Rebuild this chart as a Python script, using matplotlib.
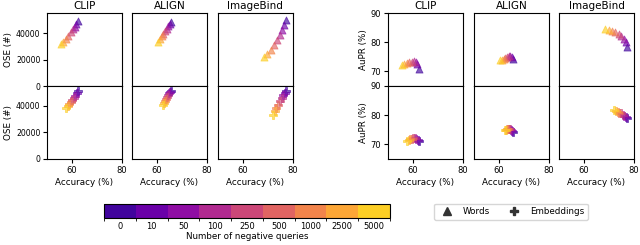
import numpy as np
import matplotlib
matplotlib.use("Agg")
import matplotlib.pyplot as plt
from matplotlib.colors import ListedColormap, BoundaryNorm
from matplotlib.cm import ScalarMappable
from matplotlib.lines import Line2D

# negative query levels (colour bins)
levels = ['0', '10', '50', '100', '250', '500', '1000', '2500', '5000']
models = ['CLIP', 'ALIGN', 'ImageBind']

# ---- Words (triangles), values ordered as levels ----
clip_words_acc = [62.2, 61.7, 61.0, 60.3, 59.5, 58.5, 57.5, 56.5, 55.5]
clip_words_ose = [49000, 47000, 45000, 43000, 40500, 38000, 35500, 33500, 31500]
clip_words_aupr = [71.0, 72.5, 73.4, 73.5, 73.3, 73.1, 72.9, 72.6, 72.3]

align_words_acc = [65.6, 65.1, 64.5, 63.9, 63.2, 62.5, 61.8, 61.0, 60.2]
align_words_ose = [48700, 47200, 45500, 43500, 41500, 39500, 37500, 35500, 33500]
align_words_aupr = [74.2, 74.9, 75.4, 75.4, 75.1, 74.8, 74.4, 74.1, 73.8]

ib_words_acc = [77.2, 76.7, 75.9, 75.0, 73.9, 72.6, 71.2, 69.9, 68.6]
ib_words_ose = [50000, 46000, 42000, 38500, 35000, 31000, 27500, 24500, 22000]
ib_words_aupr = [78.5, 80.0, 81.3, 82.3, 83.0, 83.5, 83.9, 84.2, 84.5]

# ---- Embeddings (plus) ----
clip_emb_acc = [62.4, 61.8, 61.2, 60.6, 60.0, 59.4, 58.8, 58.2, 57.5]
clip_emb_ose = [51000, 49600, 47800, 46000, 44500, 43000, 41500, 40000, 38500]
clip_emb_aupr = [71.3, 71.6, 71.9, 72.1, 72.1, 72.0, 71.8, 71.5, 71.2]

align_emb_acc = [65.5, 65.1, 64.7, 64.3, 63.9, 63.5, 63.1, 62.7, 62.5]
align_emb_ose = [51600, 50800, 49800, 48500, 47000, 45500, 44000, 42500, 41000]
align_emb_aupr = [74.3, 74.7, 75.1, 75.3, 75.4, 75.4, 75.3, 75.1, 74.8]

ib_emb_acc = [77.3, 76.8, 76.2, 75.6, 74.9, 74.2, 73.5, 72.8, 72.1]
ib_emb_ose = [51500, 50000, 48000, 46000, 43500, 41000, 38500, 36000, 33500]
ib_emb_aupr = [79.0, 79.4, 79.8, 80.2, 80.6, 80.9, 81.2, 81.5, 81.8]

words = {'CLIP': (clip_words_acc, clip_words_ose, clip_words_aupr),
         'ALIGN': (align_words_acc, align_words_ose, align_words_aupr),
         'ImageBind': (ib_words_acc, ib_words_ose, ib_words_aupr)}
emb = {'CLIP': (clip_emb_acc, clip_emb_ose, clip_emb_aupr),
       'ALIGN': (align_emb_acc, align_emb_ose, align_emb_aupr),
       'ImageBind': (ib_emb_acc, ib_emb_ose, ib_emb_aupr)}

colors = plt.cm.plasma(np.linspace(0.1, 0.9, len(levels)))
cmap = ListedColormap(colors)
norm = BoundaryNorm(np.arange(len(levels) + 1), cmap.N)

W, H = 640, 245
fig = plt.figure(figsize=(6.4, 2.45), dpi=100)

def px_axes(x0, y0, w, h):
    return fig.add_axes([x0 / W, 1 - (y0 + h) / H, w / W, h / H])

tick_fs = 6
lefts = [[47.3, 132.3, 218.0], [388.3, 474.3, 559.3]]
aw = 74.5
rows = [(13.3, 72.7), (86.0, 73.0)]

for g in range(2):
    for r in range(2):
        data = words if r == 0 else emb
        marker = '^' if r == 0 else 'P'
        for c, m in enumerate(models):
            ax = px_axes(lefts[g][c], rows[r][0], aw, rows[r][1])
            acc, ose, aupr = data[m]
            yv = ose if g == 0 else aupr
            for i in range(len(levels)):
                ax.scatter(acc[i], yv[i], marker=marker, s=26, color=colors[i],
                           alpha=0.65, linewidths=0.6, zorder=3)
            ax.set_xlim(50, 80)
            ax.set_xticks([60, 80])
            if g == 0:
                ax.set_ylim(0, 55000)
                ax.set_yticks([0, 20000, 40000])
            else:
                ax.set_ylim(65, 90)
                ax.set_yticks([70, 80, 90])
            ax.tick_params(labelsize=tick_fs, length=3, width=0.8, pad=2)
            if g == 0:
                ax.tick_params(axis='y', labelsize=5.6)
            if r == 0:
                ax.set_title(m, fontsize=7.5, pad=3)
                ax.tick_params(axis='x', bottom=False, labelbottom=False)
            else:
                ax.set_xlabel('Accuracy (%)', fontsize=6.3, labelpad=2)
            if c == 0:
                ax.set_ylabel('OSE (#)' if g == 0 else 'AuPR (%)', fontsize=6.3, labelpad=2)
            else:
                ax.tick_params(axis='y', left=False, labelleft=False)

# colour bar
cax = px_axes(104, 204, 286, 13.7)
cb = fig.colorbar(ScalarMappable(norm=norm, cmap=cmap), cax=cax, orientation='horizontal')
cb.set_ticks(np.arange(len(levels)) + 0.5)
cb.set_ticklabels(levels)
cb.ax.tick_params(labelsize=tick_fs, length=0, pad=3)
cb.set_label('Number of negative queries', fontsize=6.3, labelpad=1)

# legend
handles = [Line2D([], [], marker='^', ls='', color='#333333', markersize=6, label='Words'),
           Line2D([], [], marker='P', ls='', color='#333333', markersize=6, label='Embeddings')]
fig.legend(handles=handles, ncol=2, fontsize=6.3, loc='center',
           bbox_to_anchor=(511 / W, 1 - 211.5 / H), handletextpad=0.8,
           columnspacing=1.8, frameon=True)

fig.savefig('out.png', dpi=100)
